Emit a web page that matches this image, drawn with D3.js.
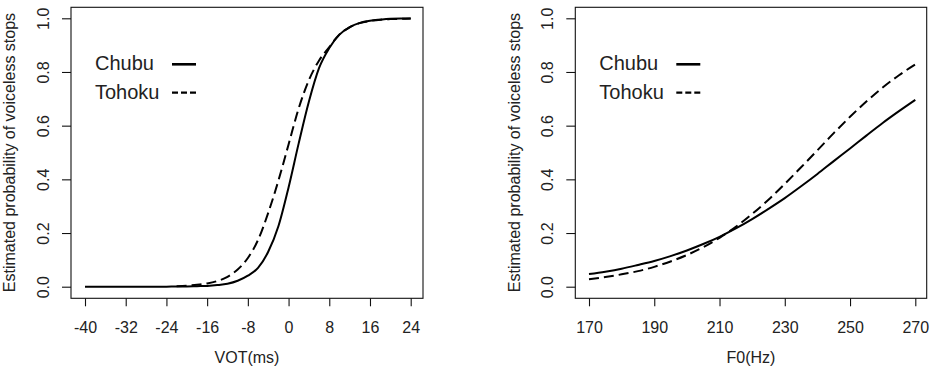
<!DOCTYPE html>
<html>
<head>
<meta charset="utf-8">
<script src="https://cdn.jsdelivr.net/npm/d3@7"></script>
<style>
  html, body { margin: 0; padding: 0; background: #fff; }
  svg { display: block; font-family: "Liberation Sans", Arial, sans-serif; }
</style>
</head>
<body>
<svg id="chart" width="933" height="372"></svg>
<script>
// ---- Data ----
const votX = [-40, -36, -32, -28, -24, -22, -20, -18, -16, -14, -12, -10, -8, -6, -4, -2, 0, 2, 4, 6, 8, 10, 12, 14, 16, 18, 20, 22, 24];
const votChubu = [0.000, 0.000, 0.000, 0.000, 0.000, 0.001, 0.001, 0.002, 0.003, 0.006, 0.011, 0.022, 0.041, 0.070, 0.130, 0.225, 0.370, 0.535, 0.690, 0.815, 0.889, 0.939, 0.967, 0.983, 0.991, 0.995, 0.998, 0.999, 0.999];
const votTohokuX = [-22, -20, -18, -16, -14, -12, -10, -8, -6, -4, -2, 0, 2, 4, 6, 8, 10, 12, 14, 16, 18, 20, 22, 24];
const votTohoku = [0.002, 0.004, 0.007, 0.012, 0.021, 0.037, 0.064, 0.107, 0.174, 0.275, 0.395, 0.530, 0.665, 0.770, 0.843, 0.893, 0.940, 0.966, 0.982, 0.990, 0.995, 0.997, 0.998, 0.999];

const f0X = [170, 175, 180, 185, 190, 195, 200, 205, 210, 215, 220, 225, 230, 235, 240, 245, 250, 255, 260, 265, 270];
const f0Chubu = [0.047, 0.056, 0.067, 0.081, 0.096, 0.114, 0.135, 0.159, 0.186, 0.217, 0.252, 0.290, 0.330, 0.374, 0.420, 0.468, 0.515, 0.563, 0.610, 0.654, 0.696];
const f0Tohoku = [0.028, 0.036, 0.046, 0.058, 0.074, 0.094, 0.118, 0.147, 0.182, 0.223, 0.271, 0.324, 0.383, 0.445, 0.508, 0.572, 0.633, 0.690, 0.742, 0.788, 0.828];

const votTicks = [-40, -32, -24, -16, -8, 0, 8, 16, 24];
const f0Ticks = [170, 190, 210, 230, 250, 270];
const yTicks = [0.0, 0.2, 0.4, 0.6, 0.8, 1.0];
const seriesNames = ["Chubu", "Tohoku"];
const yTitle = "Estimated probability of voiceless stops";

// ---- Drawing ----
const svg = d3.select("#chart");
const textColor = "#222";

function panel(opts) {
  const g = svg.append("g");
  const x = d3.scaleLinear().domain(opts.xDomain).range(opts.xRange);
  const y = d3.scaleLinear().domain([0, 1]).range([286.7, 18.3]);
  const box = opts.box;

  // box
  g.append("rect")
    .attr("x", box[0]).attr("y", box[1])
    .attr("width", box[2] - box[0]).attr("height", box[3] - box[1])
    .attr("fill", "none").attr("stroke", "#111").attr("stroke-width", 1.1);

  // x axis
  const xa = g.append("g").attr("transform", `translate(0,${box[3]})`)
    .call(d3.axisBottom(x).tickValues(opts.xTicks).tickSize(8).tickPadding(15)
      .tickFormat(d3.format("d")));
  xa.select(".domain").remove();
  xa.selectAll(".tick line").attr("stroke", "#111").attr("stroke-width", 1.1);
  xa.selectAll(".tick text").attr("fill", textColor).attr("font-size", 16)
    .attr("font-family", "Liberation Sans, Arial, sans-serif")
    .text(d => d < 0 ? "-" + Math.abs(d) : String(d));

  // y axis
  const ya = g.append("g").attr("transform", `translate(${box[0]},0)`)
    .call(d3.axisLeft(y).tickValues(yTicks).tickSize(9).tickFormat(d3.format(".1f")));
  ya.select(".domain").remove();
  ya.selectAll(".tick line").attr("stroke", "#111").attr("stroke-width", 1.1);
  ya.selectAll(".tick text")
    .attr("fill", textColor).attr("font-size", 16)
    .attr("font-family", "Liberation Sans, Arial, sans-serif")
    .attr("x", null).attr("dy", null)
    .attr("text-anchor", "middle")
    .attr("transform", `translate(${opts.yLabelX - box[0]},0) rotate(-90)`);

  // axis titles
  g.append("text")
    .attr("x", (box[0] + box[2]) / 2).attr("y", 363)
    .attr("text-anchor", "middle").attr("font-size", 16).attr("fill", textColor)
    .text(opts.xTitle);
  g.append("text")
    .attr("transform", `translate(${opts.yTitleX},${(y(0) + y(1)) / 2}) rotate(-90)`)
    .attr("text-anchor", "middle").attr("font-size", 16).attr("fill", textColor)
    .text(yTitle);

  // curves
  const line = d3.line().x(d => x(d[0])).y(d => y(d[1])).curve(d3.curveMonotoneX);
  g.append("path")
    .datum(opts.aX.map((v, i) => [v, opts.a[i]]))
    .attr("d", line).attr("fill", "none").attr("stroke", "#000").attr("stroke-width", 2);
  g.append("path")
    .datum(opts.bX.map((v, i) => [v, opts.b[i]]))
    .attr("d", line).attr("fill", "none").attr("stroke", "#000").attr("stroke-width", 2)
    .attr("stroke-dasharray", "10,5");

  // legend
  const lx = box[0] + 24;
  const llx = box[0] + 101;
  g.append("text").attr("x", lx).attr("y", 70).attr("font-size", 20).attr("fill", textColor).text(seriesNames[0]);
  g.append("text").attr("x", lx).attr("y", 98.5).attr("font-size", 20).attr("fill", textColor).text(seriesNames[1]);
  g.append("line").attr("x1", llx).attr("x2", llx + 24).attr("y1", 64.3).attr("y2", 64.3)
    .attr("stroke", "#000").attr("stroke-width", 2.6);
  g.append("line").attr("x1", llx).attr("x2", llx + 24).attr("y1", 92.7).attr("y2", 92.7)
    .attr("stroke", "#000").attr("stroke-width", 2.2).attr("stroke-dasharray", "6,3");
}

panel({
  xDomain: [-40, 24], xRange: [85, 410.7], box: [71, 7.3, 423, 298.3],
  xTicks: votTicks, xTitle: "VOT(ms)", yLabelX: 48.5, yTitleX: 15,
  aX: votX, a: votChubu, bX: votTohokuX, b: votTohoku
});
panel({
  xDomain: [170, 270], xRange: [589, 915.3], box: [575.3, 7.3, 926.7, 298.3],
  xTicks: f0Ticks, xTitle: "F0(Hz)", yLabelX: 552.8, yTitleX: 520,
  aX: f0X, a: f0Chubu, bX: f0X, b: f0Tohoku
});
</script>
</body>
</html>
